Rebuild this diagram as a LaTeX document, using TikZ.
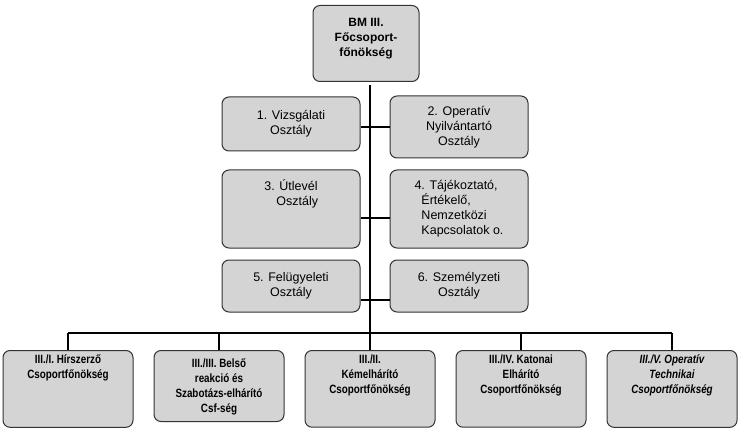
\documentclass[tikz,border=0pt]{standalone}
\usepackage{fontspec}
\setmainfont{Liberation Sans}
\begin{document}
\begin{tikzpicture}[x=1pt,y=-1pt,
 box/.style={draw=black!80,line width=1pt,fill=black!17,rounded corners=7pt,align=center,font=\fontsize{12.5}{15}\selectfont,inner sep=2pt},
 bbox/.style={box,font=\fontsize{12}{15}\bfseries\selectfont\addfontfeatures{FakeStretch=0.82},anchor=north},
 ln/.style={line width=2.5pt,black}]
\useasboundingbox (0,0) rectangle (753,433);
\node[box,minimum width=106pt,minimum height=76pt,anchor=north,font=\fontsize{12}{15}\bfseries\selectfont,text depth=12pt] (top) at (366,5) {BM III.\\Főcsoport-\\főnökség};
\coordinate (t1) at (370,85);
\coordinate (t2) at (370,333);
\draw[ln] (t1) -- (t2);
\node[box,minimum width=138pt,minimum height=54pt] (a1) at (291,124) {1. Vizsgálati\\Osztály};
\node[box,minimum width=138pt,minimum height=62pt] (a2) at (459,127) {2. Operatív\\Nyilvántartó\\Osztály};
\node[box,minimum width=138pt,minimum height=78pt,text depth=33pt] (a3) at (291,209) {3. Útlevél\\\quad Osztály};
\node[box,minimum width=138pt,minimum height=78pt,align=left] (a4) at (459,209) {4. Tájékoztató,\\\ \ Értékelő,\\\ \ Nemzetközi\\\ \ Kapcsolatok o.};
\node[box,minimum width=138pt,minimum height=52pt] (a5) at (291,286) {5. Felügyeleti\\Osztály};
\node[box,minimum width=138pt,minimum height=52pt] (a6) at (459,286) {6. Személyzeti\\Osztály};
\foreach \n/\y in {a1/127,a3/218,a5/300}{\draw[line width=1.5pt] (\n.east|-0,\y) -- (370,\y);}
\foreach \n/\y in {a2/127,a4/218,a6/300}{\draw[line width=1.5pt] (370,\y) -- (\n.west|-0,\y);}
\foreach \i/\x/\t in {1/68/{III./I. Hírszerző\\Csoportfőnökség\\[30pt]},2/219/{III./III. Belső\\reakció és\\Szabotázs-elhárító\\Csf-ség},3/370/{III./II.\\Kémelhárító\\Csoportfőnökség\\[15pt]},4/521/{III./IV. Katonai\\Elhárító\\Csoportfőnökség\\[15pt]},5/672/{\itshape III./V. Operatív\\\itshape Technikai\\\itshape Csoportfőnökség\\[15pt]}}{
 \node[bbox,minimum width=130pt,minimum height=71pt,inner xsep=1pt,inner ysep=4pt,text depth=0pt] (b\i) at (\x,350) {\t};
 \draw[ln] (\x,333) -- (b\i.north);}
\draw[ln] (b1.north|-0,333) -- (b5.north|-0,333);
\end{tikzpicture}
\end{document}
